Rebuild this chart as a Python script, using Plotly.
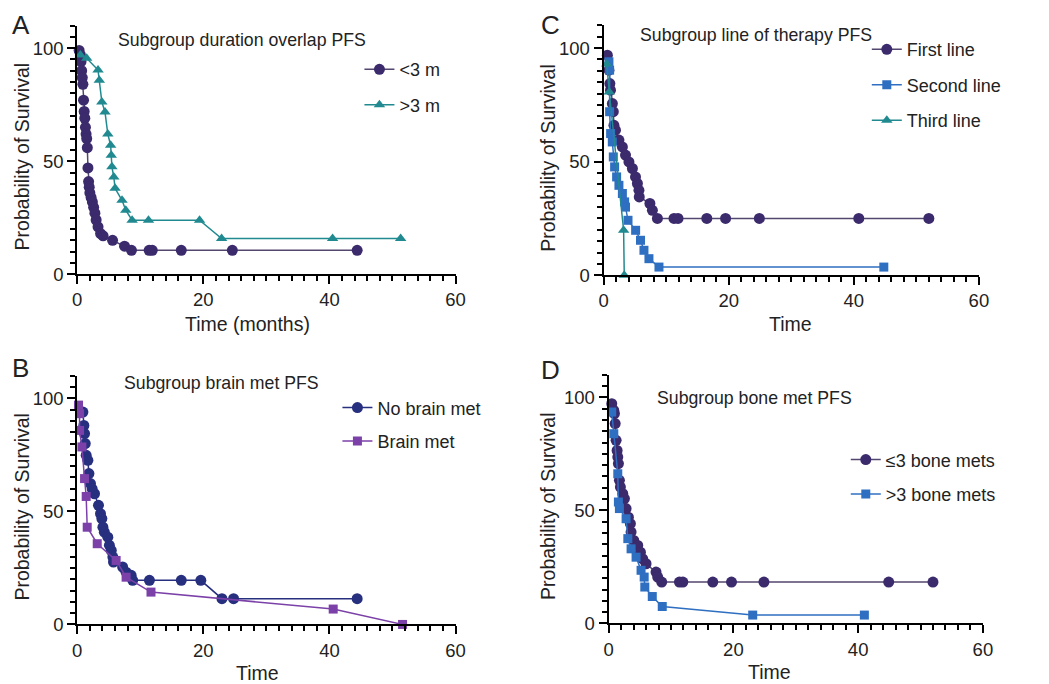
import plotly.graph_objects as go

# ---------------- DATA ----------------
# Panel A: Subgroup duration overlap PFS
A_lt3_x = [0.3, 0.5, 0.6, 0.7, 0.8, 0.9, 1.0, 1.1, 1.2, 1.3, 1.4, 1.5, 1.6, 1.7, 1.8, 1.9, 2.0, 2.2, 2.4, 2.6,
           2.8, 3.0, 3.3, 3.7, 4.1, 5.6, 7.5, 8.6, 11.4, 11.9, 16.5, 24.6, 44.4]
A_lt3_y = [99, 97, 94, 90, 87, 84, 77, 72, 69, 65, 62, 60, 56, 47, 41, 38.5, 36, 34, 32, 29.6,
           27, 24, 21, 18, 17, 15, 12.4, 10.6, 10.6, 10.6, 10.6, 10.6, 10.6]
A_gt3_x = [0.5, 1.5, 3.3, 3.5, 3.9, 4.4, 4.85, 5.3, 5.4, 5.5, 5.8, 6.0, 7.1, 7.7, 8.7, 11.3, 19.4, 22.9, 40.5, 51.3]
A_gt3_y = [97, 95.5, 90.3, 85.8, 76.2, 71.8, 62, 57, 52.6, 47.5, 43, 38, 32.7, 28.3, 23.9, 23.9, 23.9, 15.8, 15.8, 15.8]

# Panel C: Subgroup line of therapy PFS
C_first_x = [0.6, 0.85, 1.0, 1.1, 1.4, 1.55, 1.65, 1.9, 2.45, 3.0, 3.5, 4.05, 4.6, 5.1, 5.4, 5.65, 5.7,
             7.4, 7.8, 8.6, 11.25, 11.9, 16.5, 19.5, 24.9, 40.8, 52.0]
C_first_y = [96.9, 90.3, 84.4, 81.5, 75.6, 72, 66, 63.9, 59.5, 56.5, 52.9, 49.9, 47, 43.3, 40.4, 37.4, 34.5,
             31.6, 28.6, 25, 25, 25, 25, 25, 25, 25, 25]
C_second_x = [0.85, 0.96, 0.96, 1.12, 1.39, 1.55, 1.76, 2.08, 2.45, 3.0, 3.36, 3.5, 3.9, 5.12, 5.9, 6.45, 7.25, 8.85, 44.8]
C_second_y = [94, 90.3, 72, 62.4, 58.7, 52.1, 47.7, 43.3, 39.6, 36, 32.3, 30, 24.2, 19.8, 15.4, 11, 7.3, 3.6, 3.6]
C_third_x = [0.5, 0.9, 3.2, 3.3]
C_third_y = [93, 80.7, 19.8, 0]

# Panel B: Subgroup brain met PFS
B_nobrain_x = [0.9, 1.05, 1.16, 1.27, 1.42, 1.69, 1.85, 2.1, 2.37, 2.74, 3.37, 3.69, 3.9, 4.07, 4.3, 4.85, 5.1,
               5.4, 5.65, 5.75, 7.2, 7.75, 8.55, 8.8, 11.45, 16.5, 19.6, 22.95, 24.8, 44.4]
B_nobrain_y = [93.9, 88, 84.4, 80, 74.8, 72.6, 66.7, 62.3, 60, 57.8, 52.7, 49, 46.8, 43, 40.8, 38.6, 35,
               32.7, 29.8, 27.6, 25.4, 23.1, 21.7, 19.5, 19.5, 19.5, 19.5, 11.4, 11.4, 11.4]
B_brain_x = [0.2, 0.37, 0.37, 0.74, 1.16, 1.42, 1.58, 3.17, 6.17, 7.75, 11.7, 40.6, 51.6]
B_brain_y = [97, 93.2, 85.8, 78.5, 64.5, 56.6, 43, 35.7, 28.3, 20.9, 14.3, 6.8, 0]

# Panel D: Subgroup bone met PFS
D_le3_x = [0.5, 0.83, 0.93, 1.05, 1.2, 1.36, 1.47, 1.57, 1.73, 1.89, 2.27, 2.53, 2.8, 3.17, 3.49, 3.6, 4.03,
           4.67, 5.1, 5.47, 6.0, 7.6, 7.87, 8.51, 11.35, 11.9, 16.7, 19.7, 24.9, 44.9, 52.0]
D_le3_y = [97.2, 94.2, 92.8, 88.4, 81, 76.5, 73.6, 70.7, 63.3, 60.3, 57.4, 55.2, 50.8, 47, 44.1, 40.4, 36.7,
           34.5, 31.5, 28.6, 26.4, 22.7, 20.5, 18.3, 18.3, 18.3, 18.3, 18.3, 18.3, 18.3, 18.3]
D_gt3_x = [0.5, 0.83, 1.47, 1.57, 1.73, 2.8, 3.08, 3.6, 4.4, 5.2, 5.7, 5.8, 7.0, 8.6, 23.1, 41.0]
D_gt3_y = [93.5, 83.9, 66.2, 53.7, 50.8, 46.3, 37.5, 33, 29.3, 23.5, 20.5, 16.1, 11.9, 7.5, 3.7, 3.7]

X_RANGE = [0, 60]
Y_RANGE = [0, 110]
X_TICK_STEP, X_MINOR_STEP = 20, 2
Y_TICK_STEP, Y_MINOR_STEP = 50, 5

# ---------------- CANVAS ----------------
# measured: picture px = SCALE * (figure px + offset)
SCALE, OX, OY = 0.985, 13.0, 8.0
W, H = 1049, 690

# ---------------- STYLE ----------------
FONT = "Liberation Sans, Arial, Helvetica, sans-serif"
TXT = "#222222"
DARK_PURPLE = "#3b2a6c"
DARK_PURPLE_LINE = "#54476f"
TEAL = "#218a90"
BLUE = "#2f6fc1"
NAVY = "#272f7f"
VIOLET = "#7b41a8"

# panel geometry in picture pixels: x at 0, x at 60, y at 0, y at 100
geom = {
    "A": dict(x0=77, x1=455, yz=274, yh=48),
    "C": dict(x0=603, x1=978, yz=275, yh=48),
    "B": dict(x0=77, x1=455, yz=624, yh=398),
    "D": dict(x0=608, x1=982, yz=623, yh=397),
}
axis_ids = {"A": "", "C": "2", "B": "3", "D": "4"}


def pxx(p):
    return (p / SCALE - OX) / W


def pxy(p):
    return 1 - (p / SCALE - OY) / H


fig = go.Figure()

series = [
    ("A", "<3 m", A_lt3_x, A_lt3_y, DARK_PURPLE, DARK_PURPLE_LINE, "circle", 11, "legend"),
    ("A", ">3 m", A_gt3_x, A_gt3_y, TEAL, TEAL, "triangle-up", 10, "legend"),
    ("C", "First line", C_first_x, C_first_y, DARK_PURPLE, DARK_PURPLE_LINE, "circle", 11, "legend2"),
    ("C", "Second line", C_second_x, C_second_y, BLUE, BLUE, "square", 9, "legend2"),
    ("C", "Third line", C_third_x, C_third_y, TEAL, TEAL, "triangle-up", 10, "legend2"),
    ("B", "No brain met", B_nobrain_x, B_nobrain_y, NAVY, NAVY, "circle", 11, "legend3"),
    ("B", "Brain met", B_brain_x, B_brain_y, VIOLET, VIOLET, "square", 9, "legend3"),
    ("D", "≤3 bone mets", D_le3_x, D_le3_y, DARK_PURPLE, DARK_PURPLE_LINE, "circle", 11, "legend4"),
    ("D", ">3 bone mets", D_gt3_x, D_gt3_y, BLUE, BLUE, "square", 9, "legend4"),
]

for panel, name, xs, ys, col, lcol, sym, size, leg in series:
    aid = axis_ids[panel]
    fig.add_trace(go.Scatter(
        x=xs, y=ys, name=name, mode="lines+markers",
        line=dict(color=lcol, width=1.5),
        marker=dict(color=col, symbol=sym, size=size, line=dict(width=0)),
        xaxis="x" + aid, yaxis="y" + aid,
        legend=leg, legendgroup=name, cliponaxis=False,
    ))

layout = dict(
    width=W, height=H,
    margin=dict(l=0, r=0, t=0, b=0),
    paper_bgcolor="white", plot_bgcolor="white",
    font=dict(family=FONT, size=18, color=TXT),
    showlegend=True,
)

for panel, g in geom.items():
    aid = axis_ids[panel]
    ytop = g["yz"] - (g["yz"] - g["yh"]) * (Y_RANGE[1] / 100.0)
    xdom = [pxx(g["x0"]), pxx(g["x1"])]
    ydom = [pxy(g["yz"]), pxy(ytop)]
    common = dict(
        showline=True, linecolor="black", linewidth=2,
        ticks="outside", ticklen=8, tickwidth=2, tickcolor="black",
        showgrid=False, zeroline=False, fixedrange=True, tickmode="linear", tick0=0,
        tickfont=dict(family=FONT, size=18.5, color=TXT),
    )
    layout["xaxis" + aid] = dict(
        domain=xdom, range=X_RANGE, dtick=X_TICK_STEP, anchor="y" + aid,
        minor=dict(dtick=X_MINOR_STEP, tick0=0, ticks="outside", ticklen=5, tickwidth=2,
                   tickcolor="black", showgrid=False),
        **common,
    )
    layout["yaxis" + aid] = dict(
        domain=ydom, range=Y_RANGE, dtick=Y_TICK_STEP, anchor="x" + aid,
        minor=dict(dtick=Y_MINOR_STEP, tick0=0, ticks="outside", ticklen=5, tickwidth=2,
                   tickcolor="black", showgrid=False),
        **common,
    )

# legends: (left px, top px, gap) in picture pixels
legend_pos = {
    "legend": (359, 51, 9),
    "legend2": (866, 31, 9),
    "legend3": (337, 389, 7),
    "legend4": (845, 441, 8),
}
for key, (lx, ly, gap) in legend_pos.items():
    layout[key] = dict(
        x=pxx(lx), y=pxy(ly), xanchor="left", yanchor="top",
        xref="paper", yref="paper",
        bgcolor="rgba(0,0,0,0)", borderwidth=0,
        font=dict(family=FONT, size=18, color=TXT),
        traceorder="grouped", tracegroupgap=gap, itemwidth=30,
    )

fig.update_layout(**layout)

annotations = []


def ann(text, x, y, size=18, xanchor="center", yanchor="middle", angle=0, yabs=None):
    annotations.append(dict(
        text=text, x=pxx(x), y=pxy(y) if yabs is None else yabs, xref="paper", yref="paper",
        xanchor=xanchor, yanchor=yanchor, showarrow=False, textangle=angle,
        font=dict(family=FONT, size=size, color=TXT),
    ))


# panel letters
ann("A", 21, 0, size=26, yanchor="top", yabs=1.0)
ann("C", 550, 0, size=26, yanchor="top", yabs=1.0)
ann("B", 20, 368, size=26)
ann("D", 550, 370, size=26)

# titles
ann("Subgroup duration overlap PFS", 116, 40, size=17.7, xanchor="left")
ann("Subgroup line of therapy PFS", 637, 35, size=17.7, xanchor="left")
ann("Subgroup brain met PFS", 122, 383, size=17.7, xanchor="left")
ann("Subgroup bone met PFS", 654, 398, size=17.7, xanchor="left")

# axis titles
ann("Probability of Survival", 22, 156, size=19.5, angle=-90)
ann("Probability of Survival", 548, 158, size=19.5, angle=-90)
ann("Probability of Survival", 22, 506, size=19.5, angle=-90)
ann("Probability of Survival", 548, 506, size=19.5, angle=-90)
ann("Time (months)", 247, 324, size=19.5)
ann("Time", 790, 324, size=19.5)
ann("Time", 257, 673, size=19.5)
ann("Time", 769, 672, size=19.5)

fig.update_layout(annotations=annotations)

fig.write_html("out.html")
